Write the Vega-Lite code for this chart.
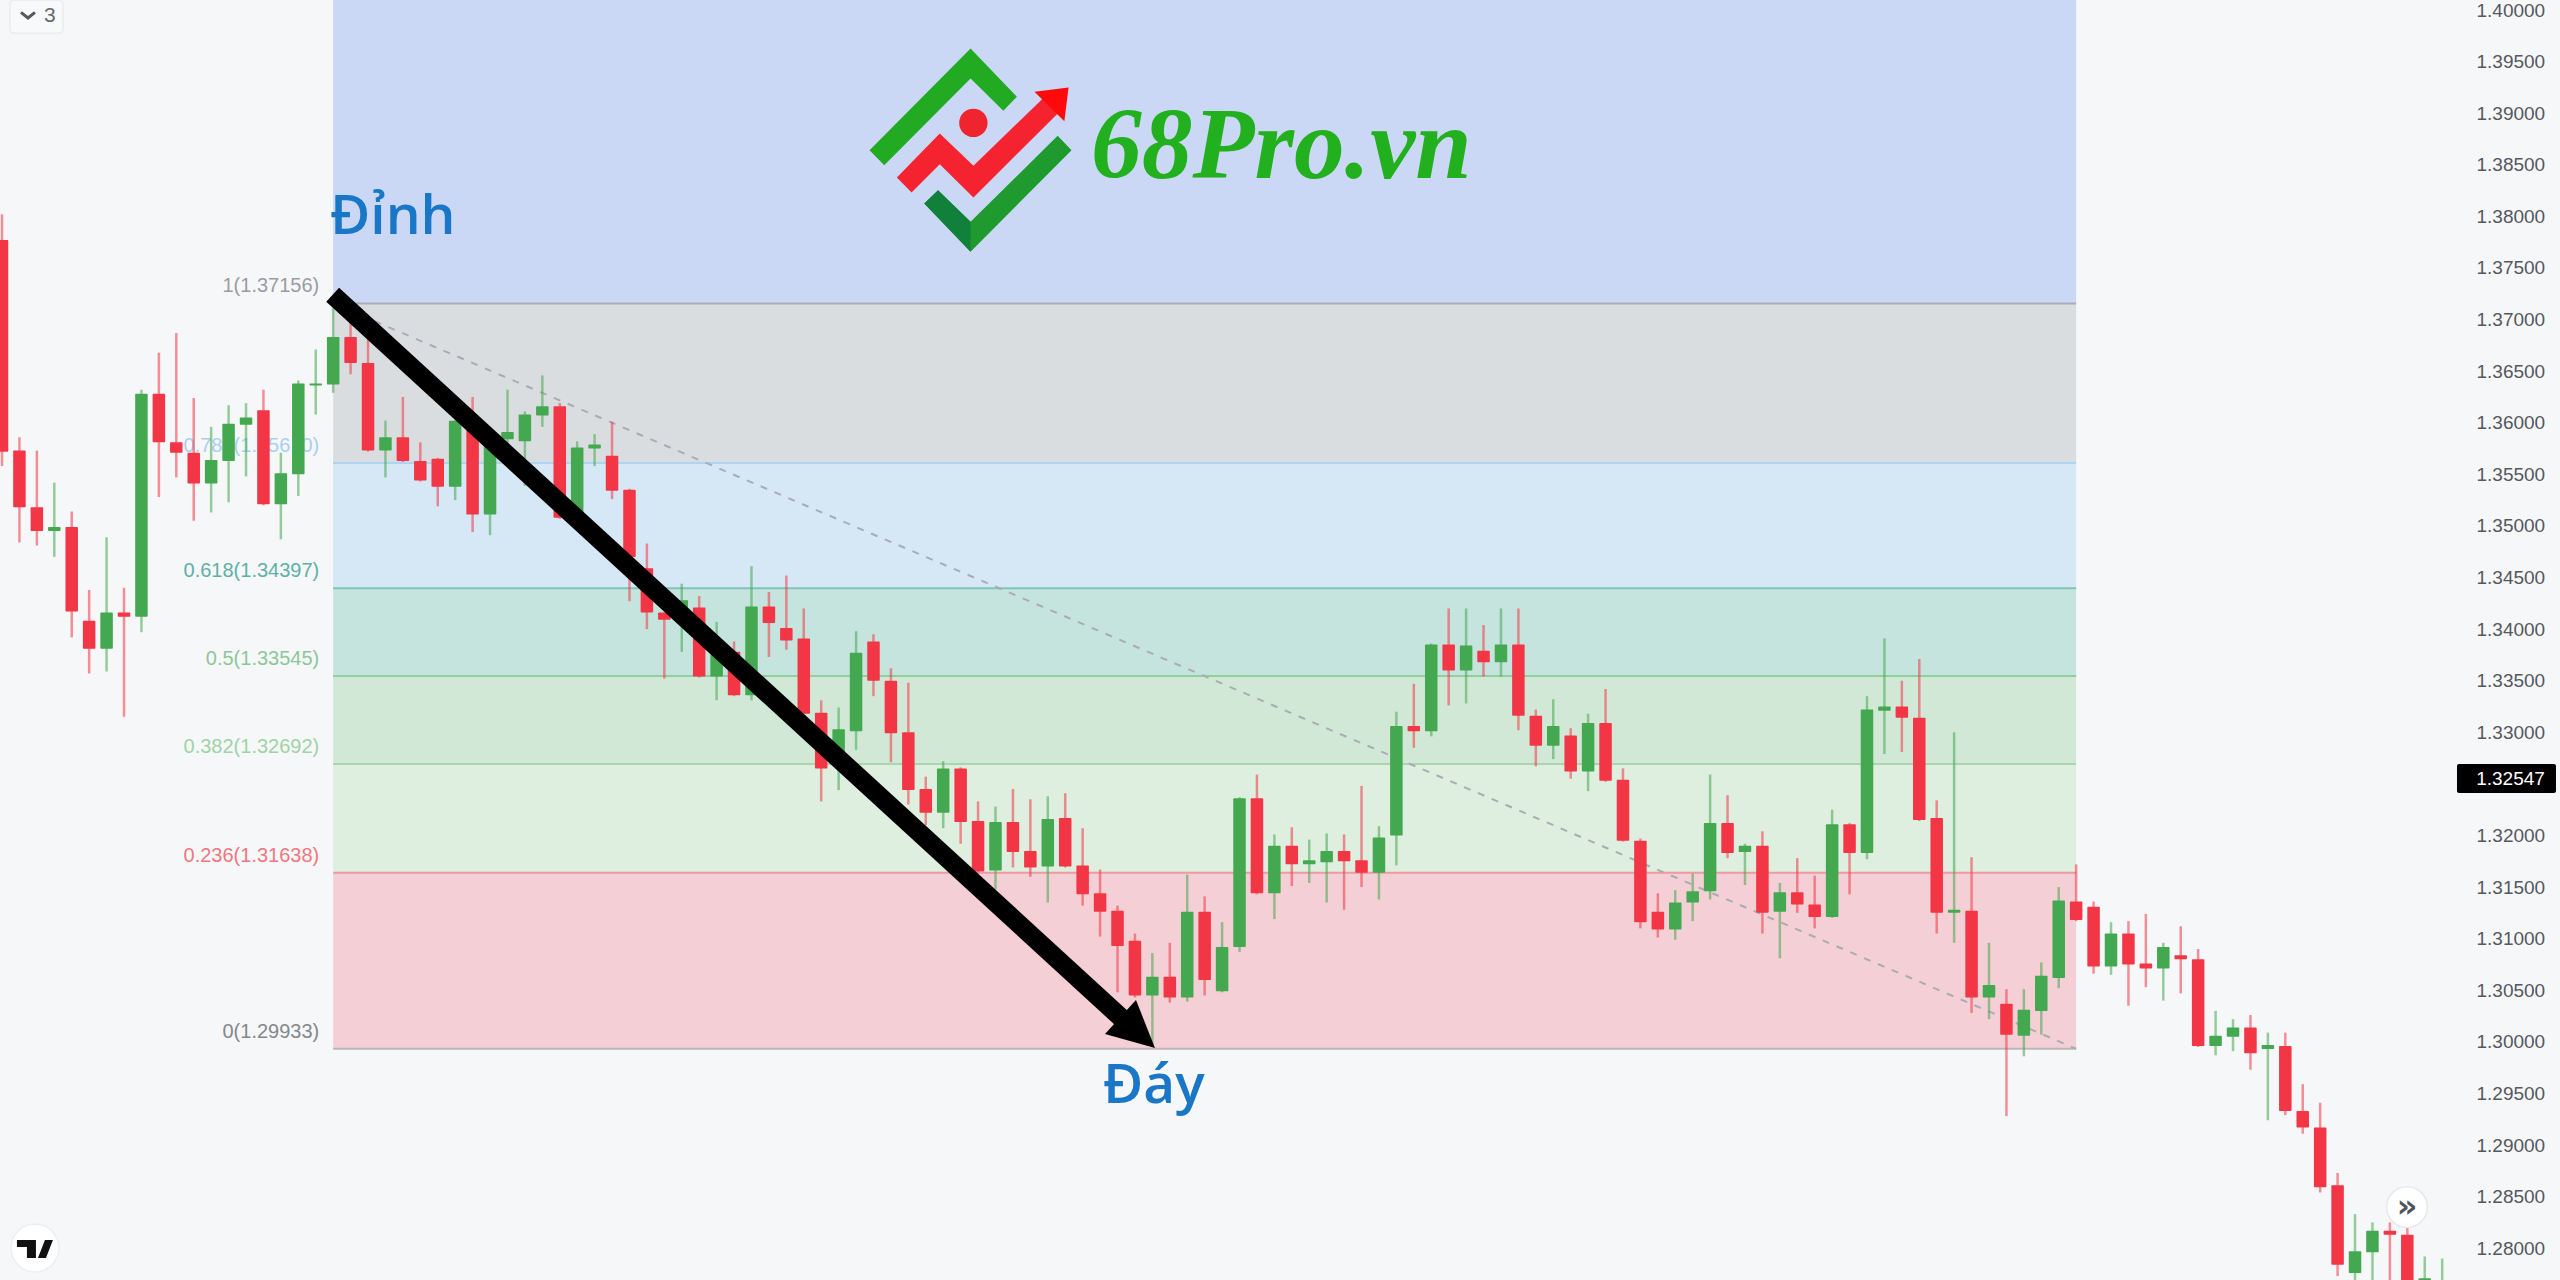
{
"$schema":"https://vega.github.io/schema/vega-lite/v6.json",
"width":2560,"height":1280,"padding":0,"autosize":{"type":"none"},
"background":"#F6F7F9",
"config":{"view":{"stroke":null}},
"data":{"values":[
{"i":0,"h":1.3802,"t":1.3777,"b":1.3572,"l":1.3558,"d":"down"},
{"i":1,"h":1.3586,"t":1.3573,"b":1.3518,"l":1.3484,"d":"down"},
{"i":2,"h":1.3573,"t":1.3518,"b":1.3495,"l":1.3481,"d":"down"},
{"i":3,"h":1.3542,"t":1.3499,"b":1.3495,"l":1.347,"d":"up"},
{"i":4,"h":1.3514,"t":1.3499,"b":1.3417,"l":1.3392,"d":"down"},
{"i":5,"h":1.3438,"t":1.3408,"b":1.3381,"l":1.3357,"d":"down"},
{"i":6,"h":1.3489,"t":1.3416,"b":1.3381,"l":1.3359,"d":"up"},
{"i":7,"h":1.344,"t":1.3416,"b":1.3412,"l":1.3315,"d":"down"},
{"i":8,"h":1.3632,"t":1.3628,"b":1.3412,"l":1.3397,"d":"up"},
{"i":9,"h":1.3668,"t":1.3628,"b":1.3581,"l":1.3528,"d":"down"},
{"i":10,"h":1.3687,"t":1.3581,"b":1.3571,"l":1.3547,"d":"down"},
{"i":11,"h":1.3624,"t":1.3571,"b":1.3541,"l":1.3505,"d":"down"},
{"i":12,"h":1.3596,"t":1.3564,"b":1.3541,"l":1.3513,"d":"up"},
{"i":13,"h":1.3617,"t":1.3599,"b":1.3563,"l":1.3523,"d":"up"},
{"i":14,"h":1.3619,"t":1.3605,"b":1.3598,"l":1.3548,"d":"up"},
{"i":15,"h":1.3632,"t":1.3612,"b":1.3521,"l":1.352,"d":"down"},
{"i":16,"h":1.3571,"t":1.3551,"b":1.3521,"l":1.3487,"d":"up"},
{"i":17,"h":1.3641,"t":1.3638,"b":1.355,"l":1.3529,"d":"up"},
{"i":18,"h":1.3671,"t":1.3638,"b":1.3636,"l":1.3608,"d":"up"},
{"i":19,"h":1.3712,"t":1.3683,"b":1.3637,"l":1.3629,"d":"up"},
{"i":20,"h":1.3702,"t":1.3683,"b":1.3658,"l":1.3647,"d":"down"},
{"i":21,"h":1.3683,"t":1.3658,"b":1.3573,"l":1.3572,"d":"down"},
{"i":22,"h":1.3602,"t":1.3586,"b":1.3573,"l":1.3547,"d":"up"},
{"i":23,"h":1.3625,"t":1.3586,"b":1.3563,"l":1.3562,"d":"down"},
{"i":24,"h":1.3581,"t":1.3563,"b":1.3544,"l":1.3543,"d":"down"},
{"i":25,"h":1.3566,"t":1.3565,"b":1.3538,"l":1.3519,"d":"down"},
{"i":26,"h":1.3603,"t":1.3602,"b":1.3538,"l":1.3525,"d":"up"},
{"i":27,"h":1.3625,"t":1.3595,"b":1.3511,"l":1.3494,"d":"down"},
{"i":28,"h":1.3588,"t":1.3581,"b":1.3511,"l":1.3491,"d":"up"},
{"i":29,"h":1.3632,"t":1.3591,"b":1.3584,"l":1.3574,"d":"up"},
{"i":30,"h":1.3611,"t":1.3608,"b":1.3582,"l":1.3539,"d":"up"},
{"i":31,"h":1.3646,"t":1.3616,"b":1.3607,"l":1.3596,"d":"up"},
{"i":32,"h":1.3619,"t":1.3616,"b":1.3508,"l":1.3507,"d":"down"},
{"i":33,"h":1.3582,"t":1.3576,"b":1.3512,"l":1.3508,"d":"up"},
{"i":34,"h":1.3589,"t":1.3579,"b":1.3575,"l":1.3558,"d":"up"},
{"i":35,"h":1.3601,"t":1.3568,"b":1.3534,"l":1.3526,"d":"down"},
{"i":36,"h":1.3536,"t":1.3535,"b":1.347,"l":1.3427,"d":"down"},
{"i":37,"h":1.3483,"t":1.3459,"b":1.3416,"l":1.34,"d":"down"},
{"i":38,"h":1.3416,"t":1.3416,"b":1.3409,"l":1.3352,"d":"down"},
{"i":39,"h":1.3444,"t":1.3428,"b":1.3413,"l":1.3378,"d":"up"},
{"i":40,"h":1.3432,"t":1.3421,"b":1.3354,"l":1.3353,"d":"down"},
{"i":41,"h":1.3407,"t":1.338,"b":1.3354,"l":1.3331,"d":"up"},
{"i":42,"h":1.3388,"t":1.3378,"b":1.3336,"l":1.3335,"d":"down"},
{"i":43,"h":1.3461,"t":1.3422,"b":1.3336,"l":1.3331,"d":"up"},
{"i":44,"h":1.3436,"t":1.3422,"b":1.3406,"l":1.3373,"d":"down"},
{"i":45,"h":1.3452,"t":1.3401,"b":1.3389,"l":1.338,"d":"down"},
{"i":46,"h":1.342,"t":1.3391,"b":1.3318,"l":1.3317,"d":"down"},
{"i":47,"h":1.3331,"t":1.3319,"b":1.3265,"l":1.3233,"d":"down"},
{"i":48,"h":1.3324,"t":1.3303,"b":1.3276,"l":1.3244,"d":"up"},
{"i":49,"h":1.3398,"t":1.3377,"b":1.3301,"l":1.3283,"d":"up"},
{"i":50,"h":1.3395,"t":1.3388,"b":1.335,"l":1.3335,"d":"down"},
{"i":51,"h":1.3362,"t":1.335,"b":1.3299,"l":1.3271,"d":"down"},
{"i":52,"h":1.3348,"t":1.33,"b":1.3244,"l":1.323,"d":"down"},
{"i":53,"h":1.3257,"t":1.3245,"b":1.3222,"l":1.321,"d":"down"},
{"i":54,"h":1.3272,"t":1.3265,"b":1.3222,"l":1.3207,"d":"up"},
{"i":55,"h":1.3266,"t":1.3265,"b":1.3213,"l":1.3192,"d":"down"},
{"i":56,"h":1.3233,"t":1.3214,"b":1.3165,"l":1.3164,"d":"down"},
{"i":57,"h":1.3228,"t":1.3213,"b":1.3166,"l":1.3148,"d":"up"},
{"i":58,"h":1.3245,"t":1.3213,"b":1.3184,"l":1.3169,"d":"down"},
{"i":59,"h":1.3235,"t":1.3185,"b":1.3169,"l":1.316,"d":"down"},
{"i":60,"h":1.3238,"t":1.3216,"b":1.317,"l":1.3135,"d":"up"},
{"i":61,"h":1.3241,"t":1.3217,"b":1.317,"l":1.3169,"d":"down"},
{"i":62,"h":1.3207,"t":1.3171,"b":1.3143,"l":1.3132,"d":"down"},
{"i":63,"h":1.3167,"t":1.3144,"b":1.3126,"l":1.3102,"d":"down"},
{"i":64,"h":1.3132,"t":1.3127,"b":1.3093,"l":1.3048,"d":"down"},
{"i":65,"h":1.3105,"t":1.3098,"b":1.3045,"l":1.3043,"d":"down"},
{"i":66,"h":1.3086,"t":1.3063,"b":1.3045,"l":1.2996,"d":"up"},
{"i":67,"h":1.3096,"t":1.3063,"b":1.3043,"l":1.3038,"d":"down"},
{"i":68,"h":1.3162,"t":1.3126,"b":1.3043,"l":1.3039,"d":"up"},
{"i":69,"h":1.3141,"t":1.3126,"b":1.306,"l":1.3045,"d":"down"},
{"i":70,"h":1.3116,"t":1.3092,"b":1.3049,"l":1.3048,"d":"up"},
{"i":71,"h":1.3237,"t":1.3236,"b":1.3092,"l":1.3087,"d":"up"},
{"i":72,"h":1.3259,"t":1.3236,"b":1.3144,"l":1.3143,"d":"down"},
{"i":73,"h":1.3201,"t":1.319,"b":1.3144,"l":1.3119,"d":"up"},
{"i":74,"h":1.3208,"t":1.319,"b":1.3172,"l":1.3151,"d":"down"},
{"i":75,"h":1.3196,"t":1.3176,"b":1.3172,"l":1.3154,"d":"up"},
{"i":76,"h":1.3202,"t":1.3185,"b":1.3174,"l":1.3135,"d":"up"},
{"i":77,"h":1.3201,"t":1.3185,"b":1.3175,"l":1.3128,"d":"down"},
{"i":78,"h":1.3248,"t":1.3176,"b":1.3164,"l":1.315,"d":"down"},
{"i":79,"h":1.3209,"t":1.3198,"b":1.3164,"l":1.3138,"d":"up"},
{"i":80,"h":1.332,"t":1.3306,"b":1.32,"l":1.3171,"d":"up"},
{"i":81,"h":1.3347,"t":1.3306,"b":1.3301,"l":1.3285,"d":"down"},
{"i":82,"h":1.3386,"t":1.3385,"b":1.3301,"l":1.3296,"d":"up"},
{"i":83,"h":1.342,"t":1.3385,"b":1.336,"l":1.3326,"d":"down"},
{"i":84,"h":1.342,"t":1.3384,"b":1.336,"l":1.3328,"d":"up"},
{"i":85,"h":1.3404,"t":1.3379,"b":1.3368,"l":1.3354,"d":"down"},
{"i":86,"h":1.342,"t":1.3385,"b":1.3368,"l":1.3354,"d":"up"},
{"i":87,"h":1.342,"t":1.3385,"b":1.3316,"l":1.3302,"d":"down"},
{"i":88,"h":1.3322,"t":1.3316,"b":1.3287,"l":1.3267,"d":"down"},
{"i":89,"h":1.3332,"t":1.3306,"b":1.3287,"l":1.3274,"d":"up"},
{"i":90,"h":1.3304,"t":1.3297,"b":1.3262,"l":1.3255,"d":"down"},
{"i":91,"h":1.3318,"t":1.3309,"b":1.3262,"l":1.3243,"d":"up"},
{"i":92,"h":1.3342,"t":1.3309,"b":1.3253,"l":1.3252,"d":"down"},
{"i":93,"h":1.3265,"t":1.3254,"b":1.3195,"l":1.3194,"d":"down"},
{"i":94,"h":1.3197,"t":1.3195,"b":1.3116,"l":1.311,"d":"down"},
{"i":95,"h":1.3144,"t":1.3126,"b":1.3109,"l":1.3101,"d":"down"},
{"i":96,"h":1.3147,"t":1.3135,"b":1.3109,"l":1.3099,"d":"up"},
{"i":97,"h":1.3163,"t":1.3146,"b":1.3135,"l":1.3117,"d":"up"},
{"i":98,"h":1.3259,"t":1.3212,"b":1.3146,"l":1.3138,"d":"up"},
{"i":99,"h":1.3239,"t":1.3212,"b":1.3183,"l":1.3178,"d":"down"},
{"i":100,"h":1.3192,"t":1.319,"b":1.3184,"l":1.3152,"d":"up"},
{"i":101,"h":1.3204,"t":1.319,"b":1.3125,"l":1.3105,"d":"down"},
{"i":102,"h":1.3154,"t":1.3145,"b":1.3126,"l":1.3081,"d":"up"},
{"i":103,"h":1.3178,"t":1.3145,"b":1.3133,"l":1.3125,"d":"down"},
{"i":104,"h":1.3161,"t":1.3133,"b":1.3121,"l":1.311,"d":"down"},
{"i":105,"h":1.3225,"t":1.3211,"b":1.3121,"l":1.312,"d":"up"},
{"i":106,"h":1.3212,"t":1.3211,"b":1.3183,"l":1.3143,"d":"down"},
{"i":107,"h":1.3335,"t":1.3322,"b":1.3183,"l":1.3177,"d":"up"},
{"i":108,"h":1.3391,"t":1.3325,"b":1.3321,"l":1.3279,"d":"up"},
{"i":109,"h":1.335,"t":1.3325,"b":1.3314,"l":1.3281,"d":"down"},
{"i":110,"h":1.3371,"t":1.3314,"b":1.3215,"l":1.3214,"d":"down"},
{"i":111,"h":1.3234,"t":1.3217,"b":1.3125,"l":1.3105,"d":"down"},
{"i":112,"h":1.33,"t":1.3128,"b":1.3125,"l":1.3096,"d":"up"},
{"i":113,"h":1.3179,"t":1.3127,"b":1.3043,"l":1.3028,"d":"down"},
{"i":114,"h":1.3096,"t":1.3055,"b":1.3043,"l":1.3022,"d":"up"},
{"i":115,"h":1.3051,"t":1.3037,"b":1.3007,"l":1.2928,"d":"down"},
{"i":116,"h":1.3051,"t":1.3031,"b":1.3006,"l":1.2986,"d":"up"},
{"i":117,"h":1.3077,"t":1.3064,"b":1.303,"l":1.3007,"d":"up"},
{"i":118,"h":1.315,"t":1.3137,"b":1.3062,"l":1.3052,"d":"up"},
{"i":119,"h":1.3172,"t":1.3136,"b":1.3118,"l":1.3117,"d":"down"},
{"i":120,"h":1.3136,"t":1.3131,"b":1.3073,"l":1.3066,"d":"down"},
{"i":121,"h":1.3116,"t":1.3105,"b":1.3073,"l":1.3065,"d":"up"},
{"i":122,"h":1.3117,"t":1.3105,"b":1.3075,"l":1.3035,"d":"down"},
{"i":123,"h":1.3124,"t":1.3076,"b":1.3071,"l":1.3053,"d":"down"},
{"i":124,"h":1.3096,"t":1.3092,"b":1.3071,"l":1.304,"d":"up"},
{"i":125,"h":1.3112,"t":1.3084,"b":1.308,"l":1.3047,"d":"down"},
{"i":126,"h":1.309,"t":1.308,"b":1.2996,"l":1.2995,"d":"down"},
{"i":127,"h":1.303,"t":1.3006,"b":1.2996,"l":1.2987,"d":"up"},
{"i":128,"h":1.3022,"t":1.3014,"b":1.3005,"l":1.2991,"d":"up"},
{"i":129,"h":1.3026,"t":1.3014,"b":1.2989,"l":1.2973,"d":"down"},
{"i":130,"h":1.3009,"t":1.2997,"b":1.2993,"l":1.2924,"d":"up"},
{"i":131,"h":1.3009,"t":1.2996,"b":1.2933,"l":1.2929,"d":"down"},
{"i":132,"h":1.2959,"t":1.2933,"b":1.2917,"l":1.2911,"d":"down"},
{"i":133,"h":1.2941,"t":1.2917,"b":1.2859,"l":1.2854,"d":"down"},
{"i":134,"h":1.2873,"t":1.2861,"b":1.2784,"l":1.2773,"d":"down"},
{"i":135,"h":1.2833,"t":1.2797,"b":1.2776,"l":1.276,"d":"up"},
{"i":136,"h":1.2825,"t":1.2817,"b":1.2796,"l":1.276,"d":"up"},
{"i":137,"h":1.2825,"t":1.2817,"b":1.2813,"l":1.276,"d":"down"},
{"i":138,"h":1.2828,"t":1.2813,"b":1.2756,"l":1.274,"d":"down"},
{"i":139,"h":1.2792,"t":1.2771,"b":1.2756,"l":1.274,"d":"up"},
{"i":140,"h":1.279,"t":1.2756,"b":1.275,"l":1.274,"d":"up"}]},
"layer":[
{"data":{"values":[
{"level":"above","from":1.40097,"to":1.37156,"start":19,"end":119},
{"level":"1","from":1.37156,"to":1.3561,"start":19,"end":119},
{"level":"0.786","from":1.3561,"to":1.34397,"start":19,"end":119},
{"level":"0.618","from":1.34397,"to":1.33545,"start":19,"end":119},
{"level":"0.5","from":1.33545,"to":1.32692,"start":19,"end":119},
{"level":"0.382","from":1.32692,"to":1.31638,"start":19,"end":119},
{"level":"0.236","from":1.31638,"to":1.29933,"start":19,"end":119}]},"mark":{"type":"rect","strokeWidth":0},
 "encoding":{
  "x":{"field":"start","type":"quantitative","scale":{"domain":[-0.1147,146.76],"nice":false,"zero":false,"padding":0},"axis":null},
  "x2":{"field":"end"},
  "y":{"field":"from","type":"quantitative","scale":{"domain":[1.27692,1.40097],"nice":false,"zero":false},
   "axis":{"orient":"left","offset":-2476,"title":null,"values":[1.28,1.285,1.29,1.295,1.3,1.305,1.31,1.315,1.32,1.33,1.335,1.34,1.345,1.35,1.355,1.36,1.365,1.37,1.375,1.38,1.385,1.39,1.395,1.4],"format":".5f","grid":false,"ticks":false,"domain":false,"labelPadding":0,"labelAlign":"left","labelFont":"Liberation Sans","labelFontSize":19,"labelColor":"#55585F","labelOverlap":false,"labelBound":false,"labelFlush":false}},
  "y2":{"field":"to"},
  "fill":{"field":"level","type":"nominal","legend":null,"scale":{"domain":["above","1","0.786","0.618","0.5","0.382","0.236"],"range":["#CAD8F6","#DADDDF","#D6E7F6","#C5E4DE","#D2E8D7","#DEEEDF","#F4CFD5"]}}}},
{"data":{"values":[
{"level":"1","price":1.37156,"start":19,"end":119},
{"level":"0.786","price":1.3561,"start":19,"end":119},
{"level":"0.618","price":1.34397,"start":19,"end":119},
{"level":"0.5","price":1.33545,"start":19,"end":119},
{"level":"0.382","price":1.32692,"start":19,"end":119},
{"level":"0.236","price":1.31638,"start":19,"end":119},
{"level":"0","price":1.29933,"start":19,"end":119}]},"mark":{"type":"rule","strokeWidth":2},
 "encoding":{
  "x":{"field":"start","type":"quantitative","axis":null},"x2":{"field":"end"},
  "y":{"field":"price","type":"quantitative"},
  "stroke":{"field":"level","type":"nominal","legend":null,"scale":{"domain":["1","0.786","0.618","0.5","0.382","0.236","0"],"range":["#ABAEB5","#ABD5F2","#7FC4B8","#8FCFA0","#A6D8AB","#EE9AA0","#BFB4BC"]}}}},
{"data":{"values":[
{"level":"1","price":1.37156,"label":"1(1.37156)","bar":18.2},
{"level":"0.786","price":1.3561,"label":"0.786(1.35610)","bar":18.2},
{"level":"0.618","price":1.34397,"label":"0.618(1.34397)","bar":18.2},
{"level":"0.5","price":1.33545,"label":"0.5(1.33545)","bar":18.2},
{"level":"0.382","price":1.32692,"label":"0.382(1.32692)","bar":18.2},
{"level":"0.236","price":1.31638,"label":"0.236(1.31638)","bar":18.2},
{"level":"0","price":1.29933,"label":"0(1.29933)","bar":18.2}]},"mark":{"type":"text","align":"right","dy":-17,"font":"Liberation Sans","fontSize":20},
 "encoding":{
  "x":{"field":"bar","type":"quantitative","axis":null},
  "y":{"field":"price","type":"quantitative"},
  "text":{"field":"label"},
  "color":{"field":"level","type":"nominal","legend":null,"scale":{"domain":["up","down","1","0.786","0.618","0.5","0.382","0.236","0"],"range":["#43A84F","#F23645","#9A9CA3","#A9CFF2","#5FB0A5","#8CC79A","#9FD3A5","#F0777F","#85878E"]}}}},
{"data":{"values":[{"bar":19,"price":1.37156},{"bar":119,"price":1.29933}]},"mark":{"type":"line","stroke":"#A9ACB1","strokeWidth":2,"strokeDash":[7,8]},
 "encoding":{"x":{"field":"bar","type":"quantitative","axis":null},"y":{"field":"price","type":"quantitative"}}},
{"mark":{"type":"rule","strokeWidth":2.5,"opacity":0.55,"clip":true},
 "encoding":{
  "x":{"field":"i","type":"quantitative","axis":null},
  "y":{"field":"h","type":"quantitative"},"y2":{"field":"l"},
  "color":{"field":"d","type":"nominal","legend":null,"scale":{"domain":["up","down","1","0.786","0.618","0.5","0.382","0.236","0"],"range":["#43A84F","#F23645","#9A9CA3","#A9CFF2","#5FB0A5","#8CC79A","#9FD3A5","#F0777F","#85878E"]}}}},
{"mark":{"type":"bar","size":12.5,"orient":"vertical","cornerRadius":1,"clip":true},
 "encoding":{
  "x":{"field":"i","type":"quantitative","axis":null},
  "y":{"field":"t","type":"quantitative"},"y2":{"field":"b"},
  "color":{"field":"d","type":"nominal","legend":null,"scale":{"domain":["up","down","1","0.786","0.618","0.5","0.382","0.236","0"],"range":["#43A84F","#F23645","#9A9CA3","#A9CFF2","#5FB0A5","#8CC79A","#9FD3A5","#F0777F","#85878E"]}}}},
{"data":{"values":[{"bar":18.97,"price":1.3724},{"bar":64.6,"price":1.30173}]},"mark":{"type":"line","stroke":"#000000","strokeWidth":19,"strokeCap":"butt"},
 "encoding":{"x":{"field":"bar","type":"quantitative","axis":null},"y":{"field":"price","type":"quantitative"}}},
{"data":{"values":[{"bar":66.15,"price":1.2994}]},"mark":{"type":"point","shape":"M0 0 L-0.38 -0.96 L-1 -0.28 Z","size":10000,"filled":true,"opacity":1,"fill":"#000000","strokeWidth":0},
 "encoding":{"x":{"field":"bar","type":"quantitative","axis":null},"y":{"field":"price","type":"quantitative"}}},
{"data":{"values":[{"bar":55.54,"price":1.38642}]},"mark":{"type":"point","shape":"M-1.005 0 L0.005 -1.017 L0.468 -0.533 L0.333 -0.393 L0.005 -0.717 L-0.858 0.15 Z","size":40000,"filled":true,"opacity":1,"fill":"#22AA22","strokeWidth":0},
 "encoding":{"x":{"field":"bar","type":"quantitative","axis":null},"y":{"field":"price","type":"quantitative"}}},
{"data":{"values":[{"bar":55.54,"price":1.38642}]},"mark":{"type":"point","shape":"M-0.458 0.533 L-0.32 0.4 L0.005 0.717 L0.876 -0.143 L1.015 0 L0.005 1.017 Z","size":40000,"filled":true,"opacity":1,"fill":"#1E9A2E","strokeWidth":0},
 "encoding":{"x":{"field":"bar","type":"quantitative","axis":null},"y":{"field":"price","type":"quantitative"}}},
{"data":{"values":[{"bar":55.54,"price":1.38642}]},"mark":{"type":"point","shape":"M-0.458 0.533 L-0.32 0.4 L0.005 0.717 L0.005 1.017 Z","size":40000,"filled":true,"opacity":1,"fill":"#11803A","strokeWidth":0},
 "encoding":{"x":{"field":"bar","type":"quantitative","axis":null},"y":{"field":"price","type":"quantitative"}}},
{"data":{"values":[{"bar":55.54,"price":1.38642}]},"mark":{"type":"point","shape":"M-0.732 0.273 L-0.303 -0.167 L0.034 0.157 L0.762 -0.55 L0.91 -0.4 L0.034 0.473 L-0.303 0.14 L-0.585 0.423 Z","size":40000,"filled":true,"opacity":1,"fill":"#F5222F","strokeWidth":0},
 "encoding":{"x":{"field":"bar","type":"quantitative","axis":null},"y":{"field":"price","type":"quantitative"}}},
{"data":{"values":[{"bar":55.54,"price":1.38642}]},"mark":{"type":"point","shape":"M0.644 -0.583 L0.985 -0.627 L0.943 -0.29 Z","size":40000,"filled":true,"opacity":1,"fill":"#FF0A0A","strokeWidth":0},
 "encoding":{"x":{"field":"bar","type":"quantitative","axis":null},"y":{"field":"price","type":"quantitative"}}},
{"data":{"values":[{"bar":55.73,"price":1.38906}]},"mark":{"type":"point","shape":"circle","size":804,"filled":true,"opacity":1,"fill":"#F0242F","strokeWidth":0},
 "encoding":{"x":{"field":"bar","type":"quantitative","axis":null},"y":{"field":"price","type":"quantitative"}}},
{"data":{"values":[{"bar":62.48,"price":1.3837,"text":"68Pro.vn"}]},"mark":{"type":"text","align":"left","baseline":"alphabetic","font":"Liberation Serif","fontStyle":"italic","fontWeight":"bold","fontSize":101.5,"fill":"#22B01E"},
 "encoding":{"x":{"field":"bar","type":"quantitative","axis":null},"y":{"field":"price","type":"quantitative"},"text":{"field":"text"}}},
{"data":{"values":[{"bar":18.82,"price":1.37828,"text":"Đỉnh"},{"bar":63.17,"price":1.29407,"text":"Đáy"}]},"mark":{"type":"text","align":"left","baseline":"alphabetic","font":"Open Sans","fontWeight":600,"fontSize":55,"fill":"#1A76C6"},
 "encoding":{"x":{"field":"bar","type":"quantitative","axis":null},"y":{"field":"price","type":"quantitative"},"text":{"field":"text"}}},
{"data":{"values":[{"top":1.32692,"bottom":1.32411,"from":140.85,"to":146.53}]},"mark":{"type":"rect","fill":"#000000","cornerRadius":2},
 "encoding":{"x":{"field":"from","type":"quantitative","axis":null},"x2":{"field":"to"},"y":{"field":"top","type":"quantitative"},"y2":{"field":"bottom"}}},
{"data":{"values":[{"price":1.32547,"label":"1.32547","bar":141.95}]},"mark":{"type":"text","align":"left","baseline":"middle","font":"Liberation Sans","fontSize":19,"fill":"#FFFFFF"},
 "encoding":{"x":{"field":"bar","type":"quantitative","axis":null},"y":{"field":"price","type":"quantitative"},"text":{"field":"label"}}},
{"data":{"values":[{"bar":0.46,"end":3.5,"top":1.40097,"bottom":1.39775}]},"mark":{"type":"rect","fill":"#F8F9FB","stroke":"#ECEEF2","strokeWidth":2,"cornerRadius":4},
 "encoding":{"x":{"field":"bar","type":"quantitative","axis":null},"x2":{"field":"end"},"y":{"field":"top","type":"quantitative"},"y2":{"field":"bottom"}}},
{"data":{"values":[{"bar":1.49,"price":1.3995}]},"mark":{"type":"point","shape":"M-1 -0.4 L0 0.4 L1 -0.4","size":196,"filled":false,"opacity":1,"stroke":"#555860","strokeWidth":3},
 "encoding":{"x":{"field":"bar","type":"quantitative","axis":null},"y":{"field":"price","type":"quantitative"}}},
{"data":{"values":[{"bar":2.75,"price":1.3994,"text":"3"}]},"mark":{"type":"text","align":"center","baseline":"middle","font":"Liberation Sans","fontSize":21,"fill":"#666970"},
 "encoding":{"x":{"field":"bar","type":"quantitative","axis":null},"y":{"field":"price","type":"quantitative"},"text":{"field":"text"}}},
{"data":{"values":[{"bar":1.89,"price":1.28002}]},"mark":{"type":"point","shape":"circle","size":2290,"filled":true,"opacity":1,"fill":"#FFFFFF","stroke":"#ECEEF2","strokeWidth":1.5},
 "encoding":{"x":{"field":"bar","type":"quantitative","axis":null},"y":{"field":"price","type":"quantitative"}}},
{"data":{"values":[{"bar":1.89,"price":1.28002}]},"mark":{"type":"point","shape":"M-1.8 -0.8 L0.1 -0.8 L0.1 1 L-0.8 1 L-0.8 -0.1 L-1.8 -0.1 Z M0.3 1 L1 -0.8 L1.8 -0.8 L1.1 1 Z","size":400,"filled":true,"opacity":1,"fill":"#111111","strokeWidth":0},
 "encoding":{"x":{"field":"bar","type":"quantitative","axis":null},"y":{"field":"price","type":"quantitative"}}},
{"data":{"values":[{"bar":137.98,"price":1.28399}]},"mark":{"type":"point","shape":"circle","size":1662,"filled":true,"opacity":1,"fill":"#FFFFFF","stroke":"#E8E9EC","strokeWidth":1.5},
 "encoding":{"x":{"field":"bar","type":"quantitative","axis":null},"y":{"field":"price","type":"quantitative"}}},
{"data":{"values":[{"bar":137.98,"price":1.28399,"text":"»"}]},"mark":{"type":"text","align":"center","baseline":"middle","font":"DejaVu Sans","fontWeight":"bold","fontSize":32,"fill":"#50535E"},
 "encoding":{"x":{"field":"bar","type":"quantitative","axis":null},"y":{"field":"price","type":"quantitative"},"text":{"field":"text"}}}
]
}
